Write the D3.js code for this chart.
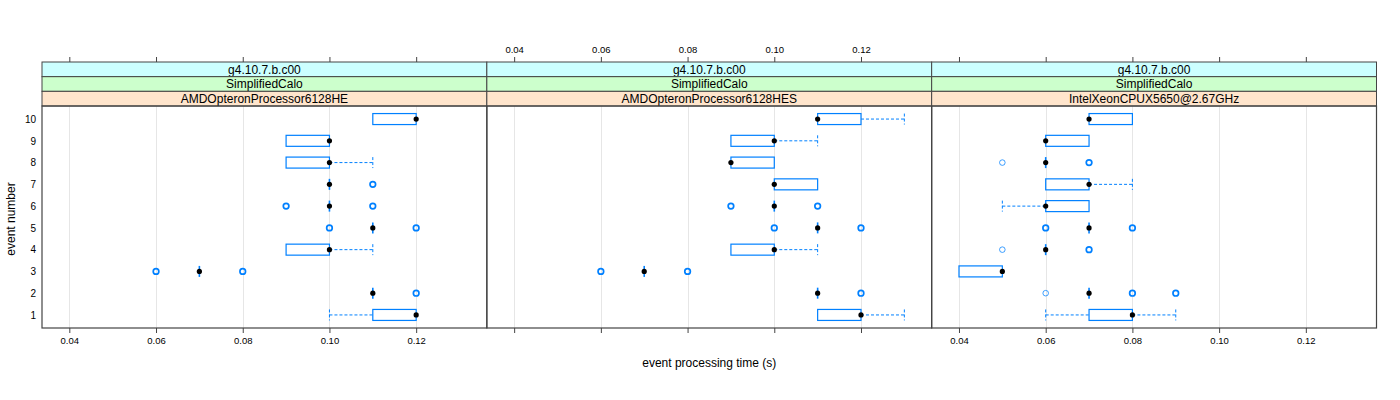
<!DOCTYPE html>
<html><head><meta charset="utf-8">
<script src="https://cdn.jsdelivr.net/npm/d3@7"></script>
<style>
body{margin:0;background:#fff;}
svg{display:block;font-family:"Liberation Sans",Arial,Helvetica,sans-serif;}
</style></head>
<body>
<svg id="chart" width="1400" height="400"></svg>
<script>
// ---------- data ----------
const stripVersion = "g4.10.7.b.c00";
const stripPhysics = "SimplifiedCalo";
const processors = ["AMDOpteronProcessor6128HE", "AMDOpteronProcessor6128HES", "IntelXeonCPUX5650@2.67GHz"];
const events = [1, 2, 3, 4, 5, 6, 7, 8, 9, 10];
const xTicks = [0.04, 0.06, 0.08, 0.10, 0.12];
const xDomain = [0.0337, 0.1363];
const yDomain = [0.4, 10.6];

// five-number stats per event: [lowWhisker, q1, median, q3, highWhisker]
const statsHE = [
  [0.10, 0.11, 0.12, 0.12, 0.12],
  [0.11, 0.11, 0.11, 0.11, 0.11],
  [0.07, 0.07, 0.07, 0.07, 0.07],
  [0.09, 0.09, 0.10, 0.10, 0.11],
  [0.11, 0.11, 0.11, 0.11, 0.11],
  [0.10, 0.10, 0.10, 0.10, 0.10],
  [0.10, 0.10, 0.10, 0.10, 0.10],
  [0.09, 0.09, 0.10, 0.10, 0.11],
  [0.09, 0.09, 0.10, 0.10, 0.10],
  [0.11, 0.11, 0.12, 0.12, 0.12]
];
const statsHES = [
  [0.11, 0.11, 0.12, 0.12, 0.13],
  [0.11, 0.11, 0.11, 0.11, 0.11],
  [0.07, 0.07, 0.07, 0.07, 0.07],
  [0.09, 0.09, 0.10, 0.10, 0.11],
  [0.11, 0.11, 0.11, 0.11, 0.11],
  [0.10, 0.10, 0.10, 0.10, 0.10],
  [0.10, 0.10, 0.10, 0.11, 0.11],
  [0.09, 0.09, 0.09, 0.10, 0.10],
  [0.09, 0.09, 0.10, 0.10, 0.11],
  [0.11, 0.11, 0.11, 0.12, 0.13]
];
const statsIntel = [
  [0.06, 0.07, 0.08, 0.08, 0.09],
  [0.07, 0.07, 0.07, 0.07, 0.07],
  [0.04, 0.04, 0.05, 0.05, 0.05],
  [0.06, 0.06, 0.06, 0.06, 0.06],
  [0.07, 0.07, 0.07, 0.07, 0.07],
  [0.05, 0.06, 0.06, 0.07, 0.07],
  [0.06, 0.06, 0.07, 0.07, 0.08],
  [0.06, 0.06, 0.06, 0.06, 0.06],
  [0.06, 0.06, 0.06, 0.07, 0.07],
  [0.07, 0.07, 0.07, 0.08, 0.08]
];
// outliers: [event, value, count]
const outHE = [
  [2, 0.12, 2], [3, 0.06, 2], [3, 0.08, 2], [5, 0.10, 2], [5, 0.12, 2],
  [6, 0.09, 2], [6, 0.11, 2], [7, 0.11, 2]
];
const outHES = [
  [2, 0.12, 2], [3, 0.06, 2], [3, 0.08, 2], [5, 0.10, 2], [5, 0.12, 2],
  [6, 0.09, 2], [6, 0.11, 2]
];
const outIntel = [
  [2, 0.06, 1], [2, 0.08, 2], [2, 0.09, 2], [4, 0.05, 1], [4, 0.07, 2],
  [5, 0.06, 2], [5, 0.08, 2], [8, 0.05, 1], [8, 0.07, 2]
];
const panelStats = [statsHE, statsHES, statsIntel];
const panelOut = [outHE, outHES, outIntel];

// ---------- layout ----------
const svg = d3.select("#chart");
const L = 42, R = 1376.5, stripTop = 62, stripH = 14.67, plotTop = 106, plotBottom = 328;
const pw = (R - L) / 3;
const blue = "#0080ff";
const stripCols = ["#ccffff", "#ccffcc", "#ffe5cc"];

const y = d3.scaleLinear().domain(yDomain).range([plotBottom, plotTop]);
const boxH = 11;

processors.forEach((proc, p) => {
  const x0 = L + p * pw, x1 = x0 + pw;
  const x = d3.scaleLinear().domain(xDomain).range([x0, x1]);
  const g = svg.append("g");

  // grid
  g.selectAll("line.grid").data(xTicks).join("line")
    .attr("x1", d => Math.round(x(d)) + 0.5).attr("x2", d => Math.round(x(d)) + 0.5)
    .attr("y1", plotTop).attr("y2", plotBottom)
    .attr("stroke", "#e6e6e6").attr("stroke-width", 1);

  // strips
  const labels = [stripVersion, stripPhysics, proc];
  labels.forEach((t, i) => {
    const sy = stripTop + i * stripH;
    g.append("rect").attr("x", x0).attr("y", sy).attr("width", pw).attr("height", stripH)
      .attr("fill", stripCols[i]).attr("stroke", "#444").attr("stroke-width", 1);
    g.append("text").attr("x", (x0 + x1) / 2).attr("y", sy + stripH / 2 + 4.3)
      .attr("text-anchor", "middle").attr("font-size", 12).attr("fill", "#000").text(t);
  });

  const stats = panelStats[p];
  stats.forEach((s, i) => {
    const ev = events[i], yc = y(ev);
    const [lo, q1, med, q3, hi] = s;
    const wh = [];
    if (lo < q1) wh.push([lo, q1, lo]);
    if (hi > q3) wh.push([q3, hi, hi]);
    wh.forEach(([a, b, cap]) => {
      g.append("line").attr("x1", x(a)).attr("x2", x(b)).attr("y1", yc).attr("y2", yc)
        .attr("stroke", blue).attr("stroke-width", 1).attr("stroke-dasharray", "3,2");
      g.append("line").attr("x1", x(cap)).attr("x2", x(cap))
        .attr("y1", yc - boxH / 2).attr("y2", yc + boxH / 2)
        .attr("stroke", blue).attr("stroke-width", 1).attr("stroke-dasharray", "3,2");
    });
    if (q3 > q1) {
      g.append("rect").attr("x", x(q1)).attr("y", yc - boxH / 2)
        .attr("width", x(q3) - x(q1)).attr("height", boxH)
        .attr("fill", "none").attr("stroke", blue).attr("stroke-width", 1.2);
    } else {
      g.append("line").attr("x1", x(q1)).attr("x2", x(q1))
        .attr("y1", yc - boxH / 2).attr("y2", yc + boxH / 2)
        .attr("stroke", blue).attr("stroke-width", 1.6);
    }
  });
  // outliers
  g.selectAll("circle.out").data(panelOut[p]).join("circle")
    .attr("cx", d => x(d[1])).attr("cy", d => y(d[0])).attr("r", 2.8)
    .attr("fill", "none").attr("stroke", blue)
    .attr("stroke-width", d => d[2] > 1 ? 1.7 : 1)
    .attr("stroke-opacity", d => d[2] > 1 ? 1 : 0.75);
  // medians
  g.selectAll("circle.med").data(stats).join("circle")
    .attr("cx", d => x(d[2])).attr("cy", (d, i) => y(events[i])).attr("r", 2.6)
    .attr("fill", "#000");

  // panel border
  g.append("rect").attr("x", x0).attr("y", plotTop).attr("width", pw).attr("height", plotBottom - plotTop)
    .attr("fill", "none").attr("stroke", "#444").attr("stroke-width", 1.2);

  const showBottomLabels = p !== 1;
  const showTopLabels = p === 1;
  const bAxis = d3.axisBottom(x).tickValues(xTicks).tickSize(5).tickPadding(4)
    .tickFormat(showBottomLabels ? d3.format(".2f") : "");
  const ba = svg.append("g").attr("transform", `translate(0,${plotBottom})`).call(bAxis);
  const tAxis = d3.axisTop(x).tickValues(xTicks).tickSize(5).tickPadding(4)
    .tickFormat(showTopLabels ? d3.format(".2f") : "");
  const ta = svg.append("g").attr("transform", `translate(0,${stripTop})`).call(tAxis);
  [ba, ta].forEach(a => {
    a.select(".domain").remove();
    a.selectAll("line").attr("stroke", "#444");
    a.selectAll("text").attr("font-size", 9.5).attr("fill", "#000")
      .attr("font-family", "'Liberation Sans',Arial,sans-serif");
  });
});

// y axis labels (left only)
const ya = svg.append("g").attr("transform", `translate(${L},0)`)
  .call(d3.axisLeft(y).tickValues(events).tickSize(0).tickPadding(6).tickFormat(d3.format("d")));
ya.select(".domain").remove();
ya.selectAll("text").attr("font-size", 10).attr("fill", "#000")
  .attr("font-family", "'Liberation Sans',Arial,sans-serif");

// titles
svg.append("text").attr("x", (L + R) / 2).attr("y", 367).attr("text-anchor", "middle")
  .attr("font-size", 12).text("event processing time (s)");
svg.append("text").attr("transform", `translate(12,${(plotTop + plotBottom) / 2 + 2}) rotate(-90)`)
  .attr("text-anchor", "middle").attr("dominant-baseline", "middle")
  .attr("font-size", 12).text("event number");
</script>
</body></html>
